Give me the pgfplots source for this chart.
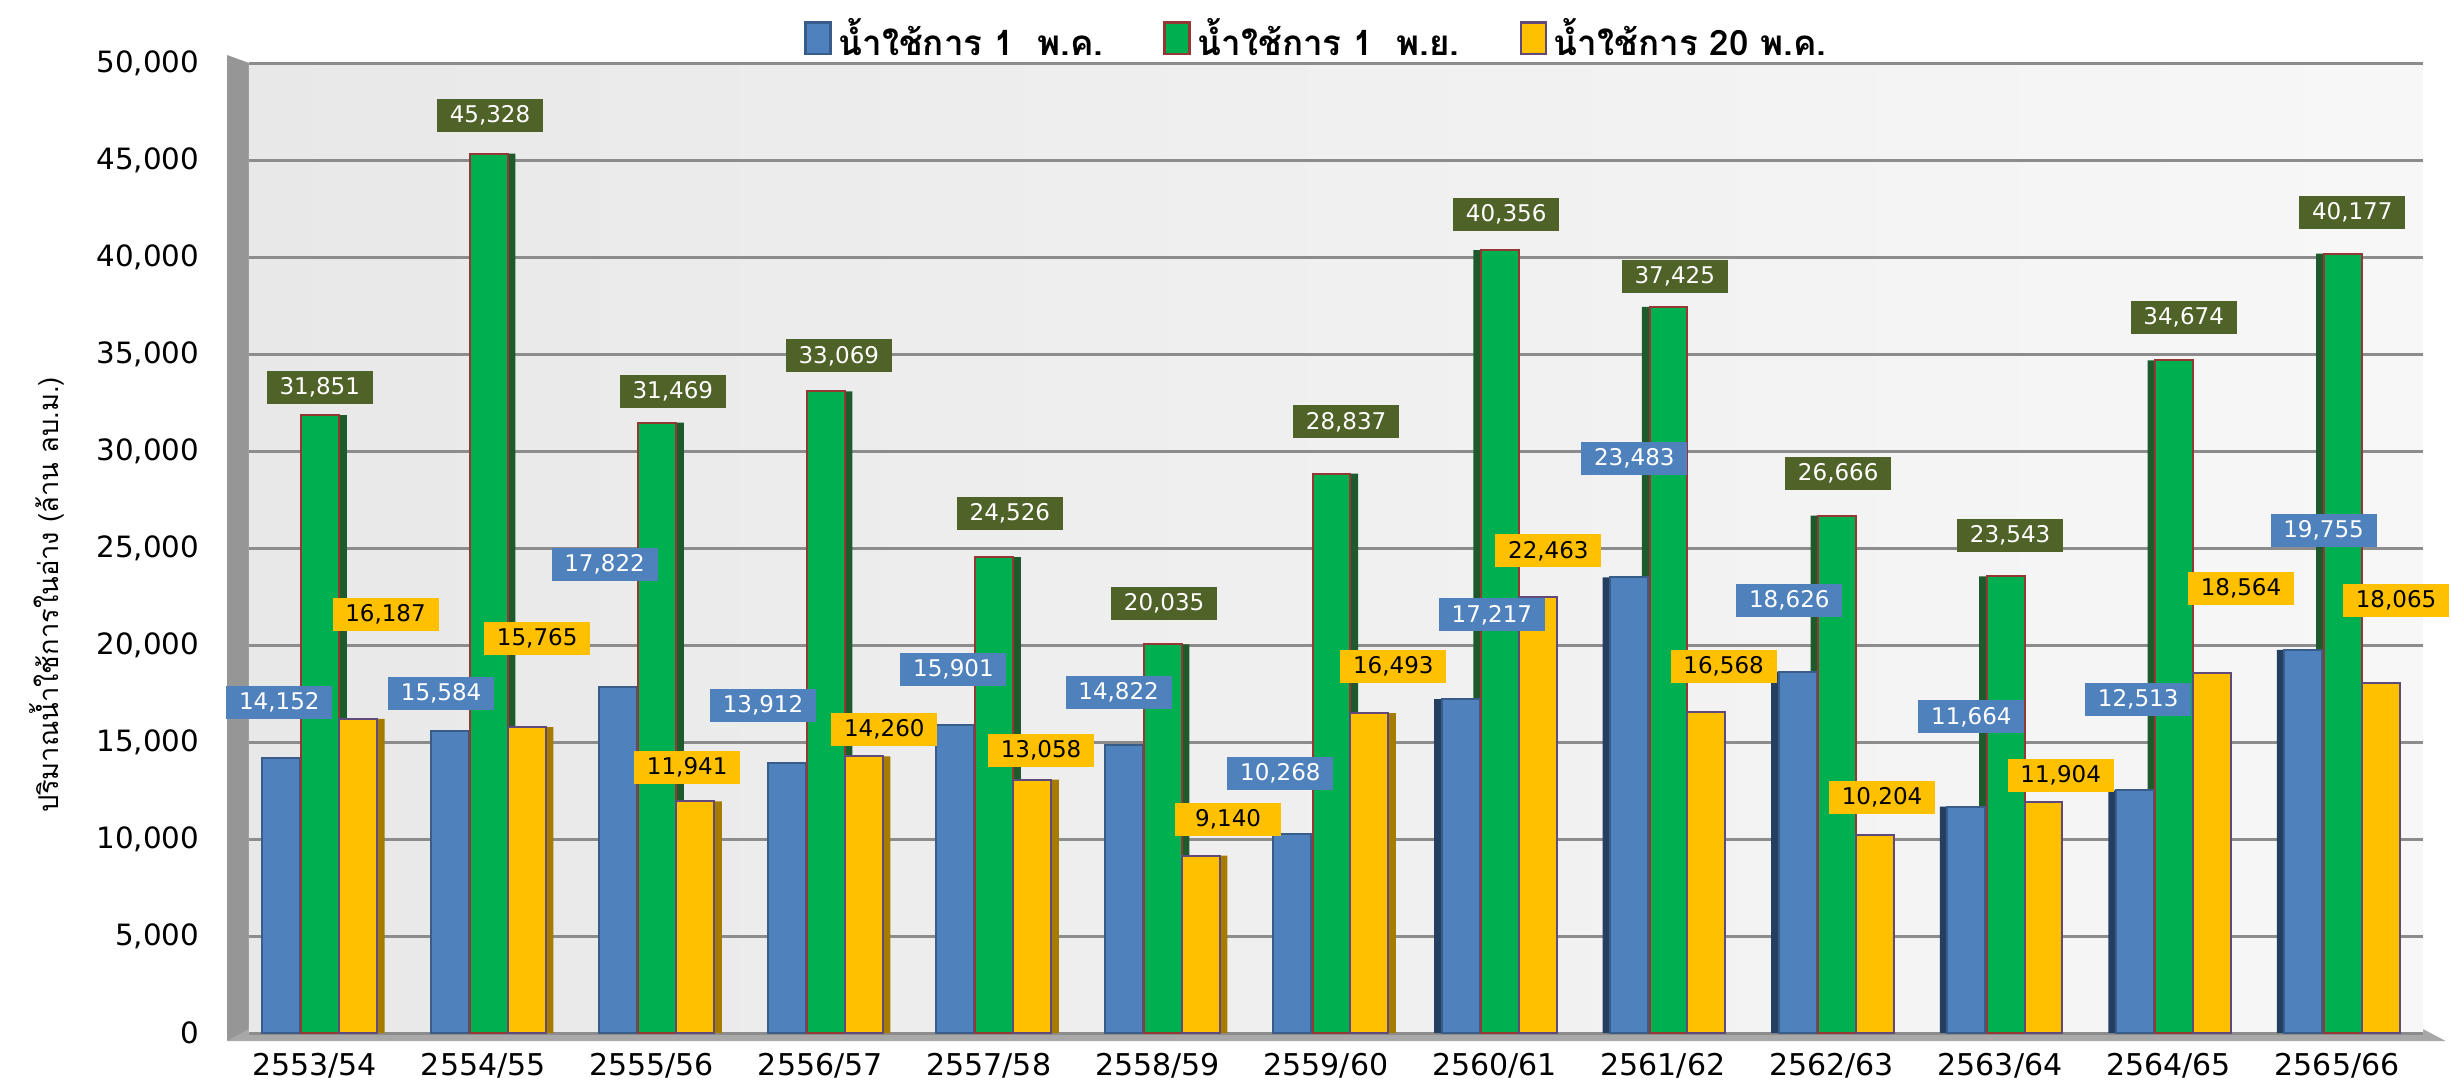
\documentclass[border=0pt]{standalone}
\usepackage{fontspec}
\setmainfont{DejaVu Sans}
\newfontfamily\thai[Script=Thai]{Loma}
\usepackage{pgfplots}
\pgfplotsset{compat=1.18}
\usepackage{pgfplotstable}
\definecolor{cblue}{HTML}{4F81BD}
\definecolor{cblueD}{HTML}{385D8A}
\definecolor{cblueS}{HTML}{243F60}
\definecolor{cgreen}{HTML}{00B050}
\definecolor{cgreenD}{HTML}{953735}
\definecolor{cgreenS}{HTML}{1D5B2C}
\definecolor{cyel}{HTML}{FFC000}
\definecolor{cyelD}{HTML}{604A7B}
\definecolor{cyelS}{HTML}{A67C00}
\definecolor{olive}{HTML}{4F6228}
\definecolor{gridc}{HTML}{8C8C8C}
\definecolor{wallc}{HTML}{969696}
\definecolor{floorc}{HTML}{A8A8A8}

% x = category, v = value, lx/ly = label position
\pgfplotstableread{
x v lx ly
0 14152 -0.21 17050
1 15584 0.75 17500
2 17822 1.72 24150
3 13912 2.66 16900
4 15901 3.79 18750
5 14822 4.77 17560
6 10268 5.73 13400
7 17217 6.985 21550
8 23483 7.83 29600
9 18626 8.75 22300
10 11664 9.83 16300
11 12513 10.82 17200
12 19755 11.92 25900
}\tblue
\pgfplotstableread{
x v lx ly
0 31851 0.03 33260
1 45328 1.04 47300
2 31469 2.125 33080
3 33069 3.11 34900
4 24526 4.125 26800
5 20035 5.04 22160
6 28837 6.12 31500
7 40356 7.07 42200
8 37425 8.07 39000
9 26666 9.04 28850
10 23543 10.06 25660
11 34674 11.09 36900
12 40177 12.09 42300
}\tgreen
\pgfplotstableread{
x v lx ly
0 16187 0.42 21560
1 15765 1.32 20360
2 11941 2.21 13700
3 14260 3.38 15650
4 13058 4.31 14570
5 9140 5.42 11000
6 16493 6.40 18900
7 22463 7.32 24850
8 16568 8.36 18900
9 10204 9.30 12150
10 11904 10.36 13300
11 18564 11.43 22900
12 18065 12.35 22300
}\tyel

\pgfplotsset{
  lbl/.style={draw=none, mark=none, forget plot,
    point meta=explicit,
    nodes near coords={\pgfmathprintnumber[fixed,precision=0,1000 sep={,},assume math mode=true]{\pgfplotspointmeta}},
    every node near coord/.style={anchor=center, inner sep=0pt, minimum width=31.8pt,
      minimum height=9.9pt, font=\fontsize{6.9}{8}\selectfont, #1}},
  sideR/.style={ybar, forget plot, bar width=0.225, draw=none, fill=#1,
    x filter/.expression={x<6.5 ? x : nan}},
  sideL/.style={ybar, forget plot, bar width=0.225, draw=none, fill=#1,
    x filter/.expression={x>6.5 ? x : nan}},
}

\begin{document}
\begin{tikzpicture}
\useasboundingbox (-74.7pt,-15.3pt) rectangle (660.6pt,309.9pt);
% side wall and floor
\fill[wallc] (0,0) -- (0,291pt) -- (-6.6pt,293.4pt) -- (-6.6pt,-2.4pt) -- cycle;
\fill[floorc] (-6.6pt,-2.4pt) -- (0,1.2pt) -- (652.2pt,1.2pt) -- (659pt,-2.4pt) -- cycle;
\begin{axis}[
  at={(0,0)}, anchor=south west, scale only axis,
  width=652.2pt, height=291pt,
  xmin=-0.39, xmax=12.51, ymin=0, ymax=50000,
  clip=false,
  axis background/.style={left color=black!9, right color=black!3},
  axis line style={draw=none},
  major tick length=0pt,
  ymajorgrids, grid style={gridc, line width=0.9pt},
  ytick={0,5000,...,50000},
  scaled y ticks=false,
  yticklabel style={/pgf/number format/fixed, /pgf/number format/precision=0,
    /pgf/number format/1000 sep={,}, /pgf/number format/assume math mode=true,
    font=\fontsize{8.8}{10}\selectfont, xshift=-11.4pt},
  xtick={0,...,12},
  xticklabels={2553/54,2554/55,2555/56,2556/57,2557/58,2558/59,2559/60,2560/61,2561/62,2562/63,2563/64,2564/65,2565/66},
  xticklabel style={font=\fontsize{9}{10}\selectfont, yshift=-2.5pt},
  ylabel={\thai ปริมาณน้ำใช้การในอ่าง (ล้าน ลบ.ม.)},
  ylabel style={at={(axis description cs:-0.093,0.452)}, anchor=center, font=\fontsize{8.2}{10}\selectfont},
  legend columns=3,
  legend style={at={(axis description cs:0.492,1)}, anchor=center, yshift=7.2pt,
    draw=none, fill=none, font=\thai\bfseries\fontsize{10.5}{13}\selectfont,
    /tikz/every even column/.append style={column sep=16pt}},
  legend image code/.code={\draw[#1, line width=0.8pt] (0pt,-4.5pt) rectangle (7.5pt,5pt);},
]
% dark side faces (pseudo 3D)
\addplot[sideL=cblueS, bar shift=-0.245] table[x=x, y=v] {\tblue};
\addplot[sideR=cgreenS, bar shift=0.078] table[x=x, y=v] {\tgreen};
\addplot[sideL=cgreenS, bar shift=-0.012] table[x=x, y=v] {\tgreen};
\addplot[sideR=cyelS, bar shift=0.303] table[x=x, y=v] {\tyel};
% bars
\addplot[ybar, bar width=0.225, bar shift=-0.2, fill=cblue, draw=cblueD, line width=0.6pt]
  table[x=x, y=v] {\tblue};
\addlegendentry{น้ำใช้การ 1~ พ.ค.}
\addplot[ybar, bar width=0.225, bar shift=0.033, fill=cgreen, draw=cgreenD, line width=0.6pt]
  table[x=x, y=v] {\tgreen};
\addlegendentry{น้ำใช้การ 1~ พ.ย.}
\addplot[ybar, bar width=0.225, bar shift=0.258, fill=cyel, draw=cyelD, line width=0.6pt]
  table[x=x, y=v] {\tyel};
\addlegendentry{น้ำใช้การ 20 พ.ค.}
% data labels
\addplot[lbl={fill=olive, text=white}] table[x=lx, y=ly, meta=v] {\tgreen};
\addplot[lbl={fill=cblue, text=white}] table[x=lx, y=ly, meta=v] {\tblue};
\addplot[lbl={fill=cyel, text=black}] table[x=lx, y=ly, meta=v] {\tyel};
\end{axis}
\end{tikzpicture}
\end{document}
